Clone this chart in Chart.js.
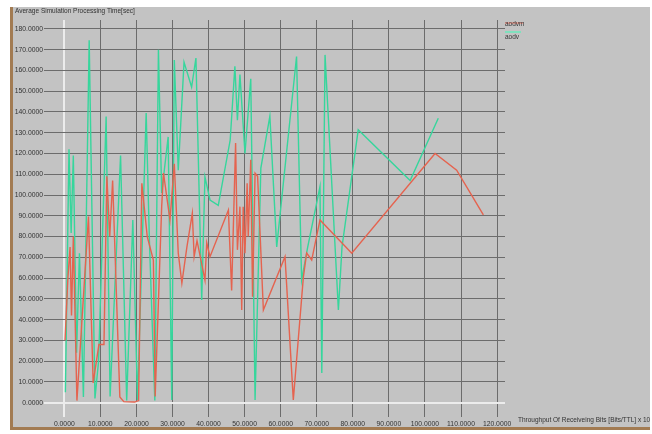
<!DOCTYPE html>
<html>
<head>
<meta charset="utf-8">
<script src="https://cdn.jsdelivr.net/npm/chart.js@4/dist/chart.umd.min.js"></script>
<style>
  html, body { margin: 0; padding: 0; background: #ffffff; }
  body { width: 652px; height: 434px; position: relative; overflow: hidden; font-family: "Liberation Sans", Arial, sans-serif; }
  #panel { position: absolute; left: 10px; top: 7px; width: 637px; height: 420px; background: #c3c3c3;
           border-left: 3px solid #a27b52; border-bottom: 3px solid #a27b52; }
  #chartWrap { position: absolute; left: 0; top: 0; width: 652px; height: 434px; }
  .txt { position: absolute; font-size: 6.5px; color: #333; white-space: nowrap; }
  .legLine { position: absolute; height: 2px; }
</style>
</head>
<body>
<div id="panel"></div>
<div id="chartWrap"><canvas id="simChart" width="652" height="434"></canvas></div>
<div class="txt" style="left:15px; top:7px;">Average Simulation Processing Time[sec]</div>
<div class="txt" style="left:518px; top:416px;">Throughput Of Receiveing Bits [Bits/TTL] x 10</div>
<div class="legLine" style="left:505px; top:22px; width:18px; background:#e8a49a;"></div>
<div class="txt" style="left:505px; top:20px;">aodvm</div>
<div class="legLine" style="left:505px; top:31px; width:16px; background:#7fe0bd;"></div>
<div class="txt" style="left:505px; top:33px;">aodv</div>
<script>
// aodvm (red)
const aodvmX = [0.2, 1.0, 1.6, 2.0, 2.5, 3.5, 6.7, 8.0, 9.6, 11.0, 11.8, 12.6, 13.4, 15.4, 16.5, 19.5, 20.6, 21.5, 23.0, 24.7, 25.2,
  27.0, 27.5, 29.3, 30.5, 31.6, 32.6, 34.0, 35.5, 36.0, 36.8, 39.0, 39.5, 40.4, 45.5, 46.4, 47.5, 48.0, 48.7, 49.2, 49.6,
  50.1, 50.7, 51.0, 51.7, 52.2, 52.9, 53.6, 55.2, 61.2, 63.5, 66.3, 67.2, 68.6, 70.9, 79.7, 102.8, 108.8, 116.2];
const aodvmY = [30, 60, 75, 42, 80, 1, 89.6, 9.5, 28, 28, 109, 80, 107, 2.7, 0.5, 0.3, 1, 105.7, 80, 68.7, 3,
  94.4, 110.6, 88, 115, 72, 57.6, 75, 91.2, 70.3, 78, 59, 77, 70.3, 92.8, 54, 125, 73.6, 94.4, 44.6, 94.4,
  72, 105.7, 80, 117, 51, 110.5, 109, 44.6, 70.3, 1.3, 60.7, 72, 68.7, 88, 72, 120, 112, 90.4];

// aodv (green)
const aodvX = [0.3, 1.3, 1.9, 2.5, 3.4, 4.2, 5.3, 6.9, 8.5, 9.5, 11.6, 12.7, 15.6, 17.3, 19.0, 20.3, 22.7, 23.6, 25.1, 26.1,
  27.0, 28.8, 29.8, 30.5, 31.6, 33.2, 35.3, 36.5, 38.1, 39.0, 40.4, 42.7, 46.0, 47.3, 48.0, 48.7, 50.1, 51.7, 52.9,
  54.5, 57.0, 58.9, 64.4, 65.8, 67.5, 70.9, 71.4, 72.3, 76.0, 77.0, 81.5, 95.9, 103.7];
const aodvY = [5, 122, 81.7, 119, 24, 72, 2.7, 174.6, 2, 20, 137.8, 3, 119, 1, 88, 1.3, 139.5, 78, 1, 170,
  101, 128, 1.3, 165, 112, 164, 152, 166, 49.5, 108.7, 97.6, 95, 126.5, 162, 136, 158, 120, 156, 1.3,
  113, 138, 75, 166.7, 59, 75, 104, 14.3, 167.5, 44.6, 75, 131.4, 107, 137];

const xTicks = [0, 10, 20, 30, 40, 50, 60, 70, 80, 90, 100, 110, 120];
const yTicks = [0, 10, 20, 30, 40, 50, 60, 70, 80, 90, 100, 110, 120, 130, 140, 150, 160, 170, 180];

const toPoints = (xs, ys) => xs.map((x, i) => ({ x: x, y: ys[i] }));
const gridColor = ctx => (ctx.tick && ctx.tick.value === 0) ? '#ececec' : '#6c6c6c';
const gridWidth = ctx => (ctx.tick && ctx.tick.value === 0) ? 2 : 1;
const tickFont = { family: 'Liberation Sans', size: 6.8 };

new Chart(document.getElementById('simChart').getContext('2d'), {
    type: 'scatter',
    data: {
        datasets: [
            {
                label: 'aodvm',
                data: toPoints(aodvmX, aodvmY),
                showLine: true,
                borderColor: '#e5634f',
                borderWidth: 1.4,
                pointRadius: 0,
                tension: 0
            },
            {
                label: 'aodv',
                data: toPoints(aodvX, aodvY),
                showLine: true,
                borderColor: '#36d69c',
                borderWidth: 1.4,
                pointRadius: 0,
                tension: 0
            }
        ]
    },
    options: {
        responsive: false,
        animation: false,
        layout: { padding: { left: 0, top: 20, right: 147, bottom: 0 } },
        plugins: {
            legend: { display: false },
            tooltip: { enabled: false }
        },
        scales: {
            x: {
                type: 'linear',
                min: -5.63,
                max: 122.2,
                afterBuildTicks: s => { s.ticks = xTicks.map(v => ({ value: v })); },
                afterFit: s => { s.height = 17; },
                grid: { color: gridColor, lineWidth: gridWidth, drawTicks: false },
                border: { display: false },
                ticks: {
                    font: tickFont,
                    color: '#333',
                    padding: 3,
                    maxRotation: 0,
                    autoSkip: false,
                    callback: v => Number(v).toFixed(4)
                }
            },
            y: {
                type: 'linear',
                min: -6.9,
                max: 184.3,
                afterBuildTicks: s => { s.ticks = yTicks.map(v => ({ value: v })); },
                afterFit: s => { s.width = 44; },
                grid: { color: gridColor, lineWidth: gridWidth, drawTicks: false },
                border: { display: false },
                ticks: {
                    font: tickFont,
                    color: '#333',
                    padding: 1,
                    autoSkip: false,
                    callback: v => Number(v).toFixed(4)
                }
            }
        }
    }
});
</script>
</body>
</html>
